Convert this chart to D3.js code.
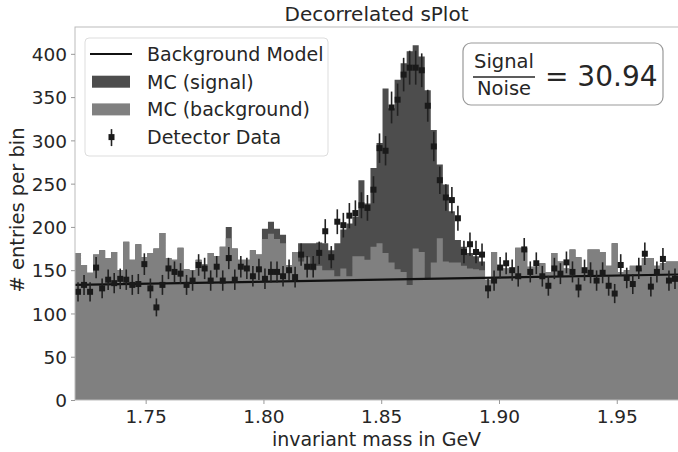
<!DOCTYPE html>
<html>
<head>
<meta charset="utf-8">
<script src="https://cdn.jsdelivr.net/npm/d3@7"></script>
<style>
  body { margin: 0; background: #fff; }
  svg { font-family: "DejaVu Sans", sans-serif; }
</style>
</head>
<body>
<svg id="chart" width="678" height="452"></svg>
<script>
// histogram binning
var binStart = 1.72, binWidth = 0.00256, nBins = 100;

// MC background per bin (light grey part of the stack)
var mcBackground = [170,156,147,168,173,164,171,150,183,162,
  180,165,170,175,193,164,162,176,151,150,
  162,157,170,166,177,187,175,162,162,173,
  168,186,192,186,181,156,171,160,165,150,
  155,150,150,143,152,143,166,166,162,177,
  181,170,159,151,148,133,175,171,140,159,
  187,160,159,159,155,152,151,150,139,171,
  153,152,150,176,176,154,154,158,148,170,
  160,152,174,165,148,174,174,171,155,181,
  148,150,155,152,164,164,155,158,160,160];

// MC signal per bin (dark grey, stacked on the background)
var mcSignal = [0,0,0,0,0,0,0,0,0,0,
  0,0,0,0,0,0,0,0,0,0,
  0,0,0,0,0,13,0,0,0,0,
  0,12,14,12,10,0,0,21,16,31,
  27,31,23,38,45,61,46,88,65,91,
  116,190,178,219,241,270,235,226,218,153,
  85,89,59,26,22,18,15,10,0,0,
  0,0,0,0,0,0,0,0,0,0,
  0,0,0,0,0,0,0,0,0,0,
  0,0,0,0,0,0,0,0,0,0];

// detector data per bin
var detectorData = [125,133,125,153,129,139,135,140,139,133,
  134,157,129,107,133,152,148,146,133,138,
  156,152,138,154,138,164,139,154,152,143,
  151,140,148,148,143,150,142,168,154,154,
  170,195,165,206,202,213,216,225,222,243,
  291,288,338,347,376,384,384,381,340,293,
  254,234,231,210,171,180,171,168,129,138,
  153,158,150,143,174,148,158,143,132,152,
  146,159,148,130,150,147,138,147,132,123,
  156,141,134,152,169,131,148,163,138,140];

// background model (straight line) end points
var modelX = [1.72, 1.976];
var modelY = [133, 145];

var xTicks = [1.75, 1.80, 1.85, 1.90, 1.95];
var yTicks = [0, 50, 100, 150, 200, 250, 300, 350, 400];
var signalToNoise = "30.94";

var margin = {left: 75, right: 678, top: 27, bottom: 400};
var textColor = "#262626";

var svg = d3.select("#chart");

var x = d3.scaleLinear().domain([binStart, binStart + binWidth * nBins]).range([margin.left, margin.right]);
var y = d3.scaleLinear().domain([0, 431]).range([margin.bottom, margin.top]);

var bins = d3.range(nBins).map(function(i) {
  return {
    x0: binStart + i * binWidth,
    x1: binStart + (i + 1) * binWidth,
    bkg: mcBackground[i],
    sig: mcSignal[i],
    data: detectorData[i]
  };
});

var plot = svg.append("g");

// stacked histogram drawn as step areas
function stepPath(valueFn) {
  var pts = [[x(binStart), y(0)]];
  bins.forEach(function(b) {
    pts.push([x(b.x0), y(valueFn(b))]);
    pts.push([x(b.x1), y(valueFn(b))]);
  });
  pts.push([x(bins[nBins - 1].x1), y(0)]);
  return d3.line()(pts) + "Z";
}

plot.append("path")
  .attr("d", stepPath(function(b) { return b.bkg + b.sig; }))
  .attr("fill", "#4d4d4d");

plot.append("path")
  .attr("d", stepPath(function(b) { return b.bkg; }))
  .attr("fill", "#808080");

// background model line
plot.append("line")
  .attr("x1", x(modelX[0])).attr("y1", y(modelY[0]))
  .attr("x2", x(modelX[1])).attr("y2", y(modelY[1]))
  .attr("stroke", "#111").attr("stroke-width", 2.2);

// detector data with sqrt(N) error bars
var pts = plot.selectAll(".pt").data(bins).enter().append("g").attr("class", "pt");
pts.append("line")
  .attr("x1", function(d) { return x((d.x0 + d.x1) / 2); })
  .attr("x2", function(d) { return x((d.x0 + d.x1) / 2); })
  .attr("y1", function(d) { return y(d.data - Math.sqrt(d.data)); })
  .attr("y2", function(d) { return y(d.data + Math.sqrt(d.data)); })
  .attr("stroke", "#222").attr("stroke-width", 1.6);
pts.append("rect")
  .attr("x", function(d) { return x((d.x0 + d.x1) / 2) - 3; })
  .attr("y", function(d) { return y(d.data) - 3; })
  .attr("width", 6).attr("height", 6)
  .attr("fill", "#1a1a1a");

// frame
svg.append("rect")
  .attr("x", margin.left).attr("y", margin.top)
  .attr("width", margin.right - margin.left + 5).attr("height", margin.bottom - margin.top)
  .attr("fill", "none").attr("stroke", "#bbb").attr("stroke-width", 1);

// axes
var xAxis = svg.append("g")
  .attr("transform", "translate(0," + margin.bottom + ")")
  .call(d3.axisBottom(x).tickValues(xTicks).tickFormat(d3.format(".2f")).tickSize(4).tickPadding(6));
var yAxis = svg.append("g")
  .attr("transform", "translate(" + margin.left + ",0)")
  .call(d3.axisLeft(y).tickValues(yTicks).tickSize(4).tickPadding(4));
[xAxis, yAxis].forEach(function(a) {
  a.select(".domain").remove();
  a.selectAll(".tick line").attr("stroke", "#999");
  a.selectAll(".tick text").attr("fill", textColor)
    .style("font-family", "DejaVu Sans").style("font-size", "18.5px");
});
yAxis.selectAll(".tick text").attr("dy", "0.36em");

// labels
var midX = (margin.left + margin.right) / 2;
svg.append("text").attr("x", midX).attr("y", 21).attr("text-anchor", "middle")
  .attr("font-size", 20).attr("fill", textColor).text("Decorrelated sPlot");
svg.append("text").attr("x", midX).attr("y", 446).attr("text-anchor", "middle")
  .attr("font-size", 19).attr("fill", textColor).text("invariant mass in GeV");
svg.append("text").attr("transform", "translate(24,210) rotate(-90)").attr("text-anchor", "middle")
  .attr("font-size", 19.5).attr("fill", textColor).text("# entries per bin");

// legend
var legend = svg.append("g");
legend.append("rect").attr("x", 85).attr("y", 38).attr("width", 243).attr("height", 118)
  .attr("rx", 4).attr("fill", "#fff").attr("fill-opacity", 0.85)
  .attr("stroke", "#ddd");
var legendItems = [
  {label: "Background Model", kind: "line"},
  {label: "MC (signal)", kind: "rect", color: "#4d4d4d"},
  {label: "MC (background)", kind: "rect", color: "#808080"},
  {label: "Detector Data", kind: "point"}
];
legendItems.forEach(function(it, i) {
  var cy = 54 + i * 27.7;
  if (it.kind === "line") {
    legend.append("line").attr("x1", 90).attr("x2", 132).attr("y1", cy).attr("y2", cy)
      .attr("stroke", "#111").attr("stroke-width", 2.2);
  } else if (it.kind === "rect") {
    legend.append("rect").attr("x", 92).attr("y", cy - 6).attr("width", 38).attr("height", 12)
      .attr("fill", it.color);
  } else {
    legend.append("line").attr("x1", 111.5).attr("x2", 111.5).attr("y1", cy - 8).attr("y2", cy + 9)
      .attr("stroke", "#222").attr("stroke-width", 1.6);
    legend.append("rect").attr("x", 108.5).attr("y", cy - 3).attr("width", 6).attr("height", 6)
      .attr("fill", "#1a1a1a");
  }
  legend.append("text").attr("x", 147).attr("y", cy + 7).attr("font-size", 19)
    .attr("fill", textColor).text(it.label);
});

// signal / noise box
var sn = svg.append("g");
sn.append("rect").attr("x", 463).attr("y", 43).attr("width", 200).attr("height", 62)
  .attr("rx", 8).attr("fill", "#fff").attr("stroke", "#999").attr("stroke-width", 1.2);
sn.append("text").attr("x", 504).attr("y", 68).attr("text-anchor", "middle")
  .attr("font-size", 19.5).attr("fill", textColor).text("Signal");
sn.append("line").attr("x1", 473).attr("x2", 535).attr("y1", 77).attr("y2", 77)
  .attr("stroke", textColor).attr("stroke-width", 1.3);
sn.append("text").attr("x", 504).attr("y", 95).attr("text-anchor", "middle")
  .attr("font-size", 19.5).attr("fill", textColor).text("Noise");
sn.append("text").attr("x", 545).attr("y", 86)
  .attr("font-size", 28).attr("fill", textColor).text("= " + signalToNoise);
</script>
</body>
</html>
